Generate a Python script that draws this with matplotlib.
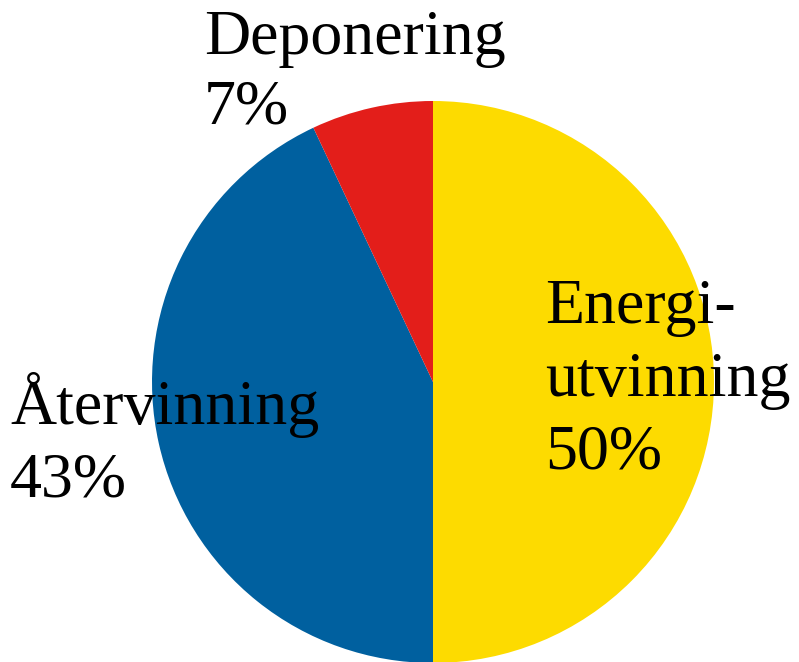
import numpy as np
import matplotlib.pyplot as plt

labels = ['Energi-\nutvinning\n50%', 'Återvinning\n43%', 'Deponering\n7%']
values = [50, 43, 7]
colors = ['#FDDB00', '#00609F', '#E31E1A']

plt.rcParams['font.family'] = ['Liberation Serif', 'DejaVu Serif']

fig = plt.figure(figsize=(7.99, 6.62), dpi=100)
ax = fig.add_axes([152/799, -1/662, 562/799, 562/662])
ax.pie(values, colors=colors, startangle=90, counterclock=False, radius=1)
ax.set_xlim(-1, 1)
ax.set_ylim(-1, 1)
ax.set_aspect('equal')
ax.axis('off')

# label positions (data coords), text left-aligned
pos = [(0.40, 0.365), (-1.505, 0.035), (-0.815, 1.325)]
spacing = [1.33, 1.33, 1.27]
for lab, (x, y), ls in zip(labels, pos, spacing):
    ax.text(x, y, lab, fontsize=46, ha='left', va='top', linespacing=ls, clip_on=False)

fig.savefig('out.png', dpi=100)
